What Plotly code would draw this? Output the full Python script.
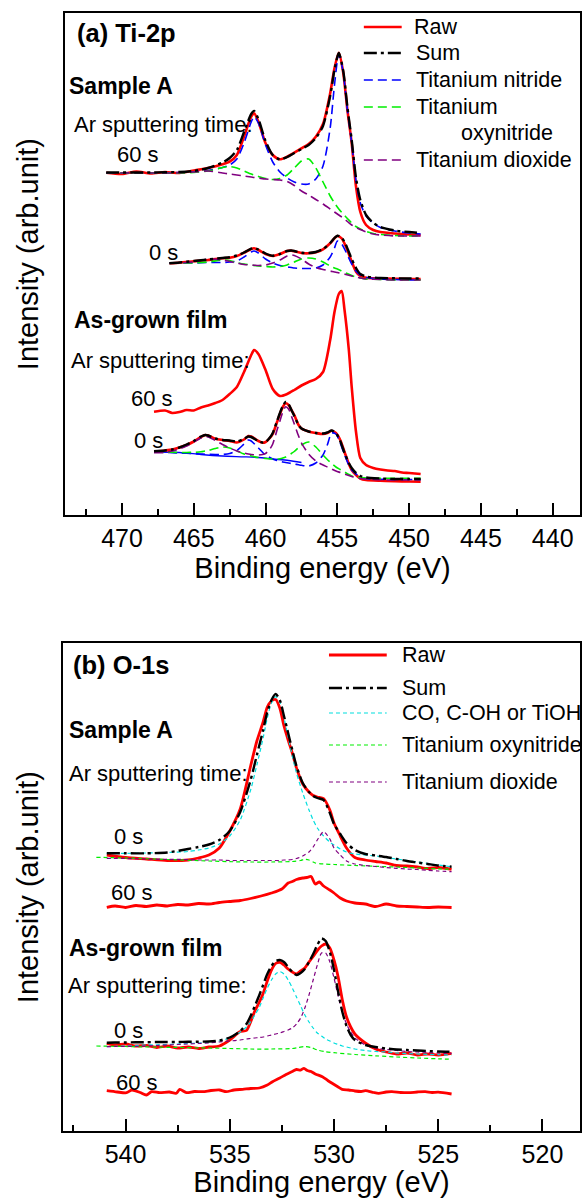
import plotly.graph_objects as go

FONT = "Liberation Sans, Arial, Helvetica, sans-serif"

# ---------------- Ti-2p ----------------
# Sample A, 60 s Ar sputtering
ti_a60_be = [471.1, 470, 469, 468, 467, 466, 465, 464, 463, 462.5, 462, 461.5, 461, 460.8, 460.5, 460,
             459.5, 459, 458.5, 458, 457.5, 457, 456.5, 456, 455.5, 455.2, 454.9, 454.6, 454.3, 454,
             453.7, 453.4, 453, 452.5, 452, 451, 450, 449.2]
ti_a60_raw = [342.3, 341, 343.5, 341.5, 343, 342, 344.5, 347, 350.7, 353.3, 360, 378.3, 398.3, 401.7, 393.3, 371.7,
              360, 355.7, 358.3, 362.3, 366.7, 371, 378.3, 391, 421.7, 446.7, 462.3, 443.3, 405, 371.7,
              328.3, 303, 290, 285, 283, 281.5, 280.5, 280]
ti_a60_sum = [342.5, 342.5, 342.5, 342.5, 342.7, 343, 344, 347, 352.5, 357, 365, 383, 401, 404, 396, 374,
              360, 355.5, 358, 362, 366, 370, 377, 389, 419, 445, 462, 445, 408, 375,
              337, 315, 300, 292, 288, 284.5, 283, 282]
ti_a60_tin = [342.3, 342, 342.2, 342, 342.2, 342.5, 343, 344.5, 347.5, 350, 356, 372, 393, 398.3, 392, 370,
              353, 343, 337, 333, 331, 331, 336, 349, 387, 430, 461, 443, 405, 372,
              334, 312, 299, 292, 287.5, 284, 282, 281]
ti_a60_tion = [342.3, 342, 342.2, 342, 342, 342, 342.5, 344, 347.5, 348.5, 347, 344, 341, 340, 338.5, 336.5,
               335.5, 336.5, 340, 347, 354, 356, 347, 333, 319, 312, 306, 301, 296.5, 292,
               288.5, 286, 283.5, 281.5, 280.5, 279.5, 279, 279]
ti_a60_tio2 = [342.3, 342, 342.2, 342, 342, 342.2, 343, 344, 342, 341, 340, 339, 338, 337.5, 337, 336,
               335.5, 335, 333.5, 329.5, 324, 320, 315.5, 311, 306, 303, 300, 297, 293.5, 290,
               287.5, 285.5, 283, 281, 280, 279, 279, 279]

# Sample A, 0 s
ti_a0_be = [466.7, 466, 465, 464, 463, 462.5, 462, 461.5, 461, 460.8, 460.5, 460, 459.5, 459, 458.5, 458.2, 458,
            457.5, 457, 456.5, 456, 455.5, 455.2, 455, 454.7, 454.4, 454, 453.7, 453.4, 453, 452, 451, 450, 449.2]
ti_a0_raw = [251.7, 252.3, 253.7, 255, 256.7, 257.3, 259, 262.3, 266, 266.7, 265, 261, 259, 261, 264, 264.3, 263.7,
             262, 261.7, 262.7, 265.7, 271.7, 276.7, 279, 276.7, 268.3, 253.3, 243.3, 239, 237.3, 236.7, 236.3, 236, 236]
ti_a0_sum = [251.7, 252.5, 254, 255.5, 257, 257.8, 259.5, 262.5, 266.3, 267, 265.5, 261.5, 259.3, 261, 264, 264.5, 264,
             262.3, 262, 263, 266, 272, 277, 279.3, 277.5, 270, 256, 247, 241, 238.5, 237, 236.7, 236.5, 236.5]
ti_a0_tin = [251.7, 252, 252, 252.5, 252.5, 253, 254, 258, 263, 264, 262, 256, 252, 249.5, 248, 247.5, 247,
             246.5, 246.5, 247, 250, 258, 267, 274, 271, 263, 251, 244, 240, 237.5, 236, 235.5, 235, 235]
ti_a0_tion = [251.7, 252, 252, 253, 255, 254.5, 252.5, 251, 250, 249.5, 249, 248.5, 248, 248.5, 250, 252, 253,
              256, 257, 256, 253, 249, 247, 246, 244, 242, 239.5, 238, 237, 236, 235.5, 235, 235, 235]
ti_a0_tio2 = [251.7, 252, 253, 256, 255, 253.5, 252, 250.5, 250, 249.8, 249.5, 250, 252, 255, 259, 260, 259.5,
              256, 251, 247.5, 245.5, 244, 243, 242.5, 241.5, 240.5, 239, 238, 237, 236, 235.5, 235, 235, 235]

# As-grown film, 60 s
ti_g60_be = [467.77, 467, 466.5, 466, 465.5, 465, 464.5, 464, 463.5, 463, 462.5, 462, 461.5, 461, 460.8, 460.5,
             460, 459.5, 459, 458.5, 458, 457.5, 457, 456.5, 456, 455.5, 455.2, 454.9, 454.7, 454.5,
             454.2, 454, 453.7, 453.4, 453, 452.5, 452, 451.5, 451, 450.5, 450, 449.2]
ti_g60_raw = [103.3, 104.5, 102, 103, 105, 104.5, 107.5, 109.5, 112, 115, 121, 128, 143, 160, 165, 161,
              145, 126, 119, 121, 125, 129.5, 133, 136, 143, 175, 203, 221, 224, 205,
              165, 128, 83, 57, 50, 47, 45.5, 44.5, 44, 42.5, 42, 41]

# As-grown film, 0 s
ti_g0_be = [467.77, 467, 466.5, 466, 465.5, 465, 464.5, 464.2, 464, 463.5,
            463, 462.5, 462, 461.5, 461.2, 461, 460.5, 460.2, 460, 459.7,
            459.5, 459.2, 459, 458.8, 458.6, 458.4, 458.2, 458, 457.7, 457.5,
            457, 456.5, 456, 455.7, 455.4, 455.1, 454.8, 454.5, 454.2, 454,
            453.7, 453.4, 453, 452, 451, 450, 449.2]
ti_g0_raw = [63.3, 64.5, 65.5, 67.5, 70, 73.5, 78, 80, 79.5, 76.3,
             75, 74, 72.5, 75.5, 79, 78.5, 74, 72.3, 73, 77,
             81, 93, 101, 108, 111.7, 110, 105, 100, 90, 86.5,
             83.5, 82, 81, 82, 84.3, 82, 75, 63, 51, 45,
             40, 36.5, 35, 34.2, 33.8, 33.5, 33.3]
ti_g0_sum = [63.8, 64.5, 65.5, 67.5, 70.5, 74, 78.5, 80, 79.5, 76.5,
             75, 74.5, 73.5, 76, 78.5, 78, 74, 72.5, 73, 77.5,
             82, 94, 102, 109, 113, 111, 105, 99, 90, 86.5,
             83.5, 82, 81.5, 82.5, 84.5, 82, 74, 62, 52, 47,
             42, 39, 37.5, 36.5, 36, 36, 36]
ti_g0_tin = [63, 62.7, 62.3, 62, 61.7, 61.3, 61, 60.8, 60.7, 60.5,
             60.5, 61.5, 64.5, 71, 75, 74, 67, 62.5, 60, 57.5,
             56, 54.5, 53.5, 53, 52.5, 52, 51.5, 51, 50.2, 49.7,
             49, 52, 60, 70, 82, 81, 72, 60, 50, 45,
             41, 38, 36.5, 35.7, 35.5, 35.5, 35.5]
ti_g0_tion = [63.3, 63, 62.7, 62.5, 62.5, 62.7, 63.2, 64, 64.5, 66.5,
              68, 67, 64, 61, 60, 59, 57.5, 57, 56.5, 56,
              56, 56, 56.3, 57, 58, 59.5, 61.5, 63.5, 67.5, 70,
              73, 68, 60, 55.5, 51.5, 48, 45.5, 43, 40.5, 39,
              38, 37.5, 37, 36.7, 36.7, 36.7, 36.7]
ti_g0_tio2 = [62.3, 62.5, 64, 66, 69, 73, 77, 78.3, 78, 74.5,
              70.5, 67, 64, 62, 61, 60.5, 60, 60.5, 61.5, 66,
              71, 85, 94, 103, 108.3, 106, 99, 91, 79, 72,
              61, 54, 50, 48, 46, 44, 42.5, 41, 39.5, 38.5,
              37.5, 36.5, 36, 35.2, 35, 35, 35]
ti_g0_bg_be = [467.77, 466, 464.5, 463, 461.5, 460.5, 459.5, 458.4, 457.5]
ti_g0_bg = [63, 62.5, 60.5, 59, 58.2, 57.5, 56, 54.5, 52.5]

# ---------------- O-1s ----------------
# Sample A, 0 s
o_a0_be = [540.9, 540, 539, 538, 537, 536.5, 536, 535.5, 535, 534.5,
           534, 533.7, 533.4, 533.2, 533, 532.8, 532.6, 532.4, 532.2, 532,
           531.8, 531.5, 531.2, 531, 530.8, 530.5, 530.2, 530, 529.7, 529.4,
           529, 528.5, 528, 527.5, 527, 526.5, 526, 525.5, 525, 524.36]
o_a0_raw = [276, 273.5, 272, 270.5, 271, 273, 276, 283, 300, 322,
            365, 390, 409, 424, 430, 431.5, 423, 405, 391, 378,
            363, 347, 339, 335.5, 334, 332.5, 321, 308, 295, 283,
            273.5, 271, 269.5, 268, 265.5, 265, 264, 262.5, 263.5, 261.7]
o_a0_sum = [277.7, 277.7, 277.7, 278.5, 282, 284, 286.5, 291, 300, 319,
            351, 376, 401, 419, 431, 437, 431, 415, 398, 381,
            365, 348, 339, 335, 333, 331, 318, 307, 297, 288,
            281, 277, 275.5, 274, 272, 270, 268.5, 267, 265.5, 264.3]
o_a0_coh = [277.7, 277.7, 278, 278.5, 279.5, 281, 283, 287, 295, 311,
            341, 366, 393, 413, 428, 434.3, 429, 413, 394, 375,
            358, 338, 321, 311, 303, 295, 289, 286, 282, 279,
            277, 276, 275, 273.5, 272, 270.5, 269, 267.5, 266, 264.3]
o_a0_tio2 = [272.7, 272.5, 272, 271.7, 271.4, 271, 271, 271, 270.5, 270.5,
             270.5, 270.5, 270.5, 270.5, 270.5, 270.5, 270.5, 271, 271, 271.5,
             272.5, 275, 279, 284, 291, 299.3, 292, 283, 276, 270,
             267, 265.5, 264.5, 263.5, 262.7, 262, 261.5, 260.7, 260, 259.3]
o_a0_tion_be = [541.4, 540, 538, 536, 535, 534, 533, 532, 531.6, 531.4,
                531.2, 530.9, 530.5, 530, 529, 528, 527, 526, 525, 524.36]
o_a0_tion = [273.7, 273, 271.5, 270, 269.3, 269, 269, 269.5, 270.5, 271.7,
             271, 268, 267, 266.5, 265.5, 264.7, 264, 263, 262.2, 261.7]

# Sample A, 60 s
o_a60_be = [540.9, 540.5, 540, 539.5, 539, 538.5, 538, 537.5, 537, 536.5,
            536, 535.5, 535, 534.5, 534, 533.5, 533, 532.5, 532.2, 532,
            531.8, 531.5, 531.3, 531.1, 530.9, 530.7, 530.5, 530.2, 530, 529.7,
            529.4, 529, 528.5, 528, 527.5, 527, 526.5, 526, 525.5, 525, 524.36]
o_a60_raw = [223.7, 225, 223.5, 225.5, 224.5, 226, 225, 226.5, 226, 227.5,
             227, 228.5, 229.5, 230.5, 232.5, 235, 238, 242, 248, 249.5,
             251.5, 253, 253.5, 254.5, 247, 249, 245, 241, 238, 233,
             230, 228, 227, 224.5, 227, 225, 224.5, 224, 223.5, 224, 223.5]

# As-grown film, 0 s
o_g0_be = [540.9, 540.5, 540, 539.5, 539, 538.5, 538, 537.5, 537, 536.5,
           536, 535.5, 535, 534.5, 534.2, 534, 533.8, 533.6, 533.4, 533.2,
           533, 532.8, 532.6, 532.4, 532.2, 532, 531.8, 531.6, 531.4, 531.2,
           531, 530.8, 530.6, 530.4, 530.2, 530, 529.8, 529.6, 529.4, 529.2,
           529, 528.5, 528, 527.5, 527, 526.5, 526, 525.5, 525, 524.36]
o_g0_raw = [87.7, 86, 87, 85, 85.5, 83.5, 85, 83, 84, 82.5,
            84, 85, 91, 99.5, 100.5, 109, 120, 128, 137.5, 150,
            161, 167.5, 168.7, 166, 162, 159, 157, 160, 163, 169,
            174.5, 180.5, 185, 187, 183, 171, 154, 131, 114, 104,
            97, 88, 82, 79, 77, 78, 76, 77, 76, 77.7]
o_g0_sum = [88.3, 88.5, 88.5, 88.7, 88.8, 89, 89, 89, 89.2, 89.3,
            89.5, 90.5, 93.5, 100, 107, 115, 125, 135, 146, 157,
            165, 170, 171, 169, 164, 159, 156, 158, 162, 169,
            177, 186, 192.5, 190, 179, 161, 139, 119, 105, 96,
            91, 86, 84, 82.5, 81.5, 81, 80.5, 80, 79.5, 79.3]
o_g0_coh = [84.3, 84.7, 85, 85.5, 86, 86.2, 86.5, 87, 87.5, 88,
            88.5, 90, 93, 99, 104, 109, 116, 123, 133, 143,
            151, 157, 159.3, 157, 151, 143, 134, 125, 116, 109,
            103, 98, 95, 92, 90, 88, 86.5, 85, 84, 83,
            82, 80.5, 79.5, 79, 78, 77.5, 77, 76.7, 76.3, 76]
o_g0_tio2 = [84.3, 84.5, 84.5, 84.7, 85, 85.5, 86, 86.5, 87, 87.5,
             88, 89, 90, 91, 92, 92.5, 93, 93.5, 94, 95,
             96, 97, 98, 99.5, 101, 103, 107, 113, 123, 136,
             151, 166, 178, 178, 169, 153, 135, 119, 107, 99,
             93, 86, 83, 81.5, 80.5, 79.5, 79, 78.5, 78, 77.7]
o_g0_tion_be = [541.4, 540, 538, 536, 535, 534, 533, 532, 531.7, 531.4,
                531.1, 530.8, 530.4, 530, 529, 528, 527, 526, 525, 524.36]
o_g0_tion = [85, 84.5, 83.7, 83, 82.5, 82, 82, 82.5, 83.5, 84.5,
             83.5, 81, 79.3, 78.3, 76.5, 75.2, 74, 73, 72.2, 71.7]

# As-grown film, 60 s
o_g60_be = [540.9, 540.4, 539.95, 539.7, 539.3, 539.0, 538.75, 538.36, 537.9, 537.56,
            537.4, 537.08, 536.7, 536.29, 535.9, 535.49, 535.17, 534.8, 534.38, 534.0,
            533.58, 533.2, 532.95, 532.6, 532.3, 532.0, 531.8, 531.6, 531.44, 531.28,
            531.1, 530.9, 530.56, 530.3, 530.09, 529.8, 529.61, 529.3, 529.0, 528.7,
            528.49, 528.1, 527.86, 527.5, 527.22, 526.8, 526.42, 526.0, 525.63, 525.3,
            525.0, 524.36]
o_g60_raw = [40.3, 39, 38.3, 41, 38.5, 36, 39.3, 38.3, 39, 37.7,
             41.7, 38.3, 39.5, 39.3, 40.5, 41, 39.3, 41, 41.7, 42.5,
             43, 46, 49.3, 53, 56.5, 59.5, 61.5, 61, 62.7, 60.5,
             59.5, 57, 54.3, 50.5, 47.7, 44, 41.7, 41, 40, 39.5,
             40.3, 38.5, 37.7, 39, 39.3, 38.5, 38.3, 39, 39.3, 38.5,
             38.8, 37]

# ---------------- styling ----------------
RED, BLACK, BLUE = "#ff0000", "#000000", "#0000ff"
GREEN, PURPLE, CYAN = "#00ee00", "#800080", "#00dede"
DASH_TI = "9px,5px"
DASH_O = "4px,3px"
DASH_SUM = "13px,4px,3px,4px"

W, H = 584, 1198
ML, MR, MT, MB = 63, 2, 13, 67
PW, PH = W - ML - MR, H - MT - MB


def px(x):
    return (x - ML) / PW


def py(y):
    return (H - MB - y) / PH


fig = go.Figure()


def add(be, inten, xa, ya, color, width, dash="solid"):
    fig.add_trace(go.Scatter(
        x=be, y=inten, xaxis=xa, yaxis=ya, mode="lines",
        line=dict(color=color, width=width, dash=dash, shape="spline", smoothing=0.7),
        showlegend=False, hoverinfo="skip"))


# Ti-2p panel
for comps, raw, tot, be in [
    ((ti_a60_tin, ti_a60_tion, ti_a60_tio2), ti_a60_raw, ti_a60_sum, ti_a60_be),
    ((ti_a0_tin, ti_a0_tion, ti_a0_tio2), ti_a0_raw, ti_a0_sum, ti_a0_be),
]:
    add(be, raw, "x", "y", RED, 2.6)
    for c, col in zip(comps, (BLUE, GREEN, PURPLE)):
        add(be, c, "x", "y", col, 1.6, DASH_TI)
    add(be, tot, "x", "y", BLACK, 2.4, DASH_SUM)

add(ti_g60_be, ti_g60_raw, "x", "y", RED, 2.6)
add(ti_g0_bg_be, ti_g0_bg, "x", "y", BLUE, 1.3)
add(ti_g0_be, ti_g0_raw, "x", "y", RED, 2.6)
for c, col in zip((ti_g0_tin, ti_g0_tion, ti_g0_tio2), (BLUE, GREEN, PURPLE)):
    add(ti_g0_be, c, "x", "y", col, 1.6, DASH_TI)
add(ti_g0_be, ti_g0_sum, "x", "y", BLACK, 2.4, DASH_SUM)

# O-1s panel
add(o_a0_be, o_a0_raw, "x2", "y2", RED, 2.8)
add(o_a0_be, o_a0_coh, "x2", "y2", CYAN, 1.2, DASH_O)
add(o_a0_tion_be, o_a0_tion, "x2", "y2", GREEN, 1.2, DASH_O)
add(o_a0_be, o_a0_tio2, "x2", "y2", PURPLE, 1.2, DASH_O)
add(o_a0_be, o_a0_sum, "x2", "y2", BLACK, 2.4, DASH_SUM)
add(o_a60_be, o_a60_raw, "x2", "y2", RED, 2.8)

add(o_g0_be, o_g0_raw, "x2", "y2", RED, 2.8)
add(o_g0_be, o_g0_coh, "x2", "y2", CYAN, 1.2, DASH_O)
add(o_g0_tion_be, o_g0_tion, "x2", "y2", GREEN, 1.2, DASH_O)
add(o_g0_be, o_g0_tio2, "x2", "y2", PURPLE, 1.2, DASH_O)
add(o_g0_be, o_g0_sum, "x2", "y2", BLACK, 2.4, DASH_SUM)
add(o_g60_be, o_g60_raw, "x2", "y2", RED, 2.8)

# axes
xcommon = dict(showline=True, linewidth=2, linecolor="black", mirror=True,
               ticks="inside", ticklen=12, tickwidth=2, tickcolor="black",
               tick0=0, dtick=5, showgrid=False, zeroline=False,
               minor=dict(ticks="inside", ticklen=6, tickwidth=1.5, tickcolor="black", dtick=2.5, showgrid=False),
               tickfont=dict(family=FONT, size=25, color="black"),
               title=dict(text="Binding energy (eV)", font=dict(family=FONT, size=29, color="black"), standoff=4))
ycommon = dict(showline=True, linewidth=2, linecolor="black", mirror=True, ticks="",
               showticklabels=False, showgrid=False, zeroline=False)

fig.update_layout(
    width=W, height=H, margin=dict(l=ML, r=MR, t=MT, b=MB),
    paper_bgcolor="white", plot_bgcolor="white", showlegend=False,
    xaxis=dict(domain=[px(65), 1], range=[473.97, 438.1], anchor="y", **xcommon),
    yaxis=dict(domain=[py(515), 1], range=[0, 502], anchor="x", **ycommon),
    xaxis2=dict(domain=[0, 1], range=[543.0, 518.2], anchor="y2", **xcommon),
    yaxis2=dict(domain=[0, py(643)], range=[0, 488], anchor="x2", **ycommon),
)

annotations = []


def text(s, x, y, size=22, bold=False, anchor="left", angle=0):
    annotations.append(dict(
        text=f"<b>{s}</b>" if bold else s, x=px(x), y=py(y), xref="paper", yref="paper",
        xanchor=anchor, yanchor="middle", showarrow=False, textangle=angle,
        font=dict(family=FONT, size=size, color="black")))


# Ti-2p labels
text("(a) Ti-2p", 75, 33, 25.5, True)
text("Sample A", 67, 86, 23, True)
text("Ar sputtering time:", 72, 125)
text("60 s", 115, 154)
text("0 s", 147, 252)
text("As-grown film", 72, 320, 23, True)
text("Ar sputtering time:", 69, 360)
text("60 s", 129, 398)
text("0 s", 132, 440)
# O-1s labels
text("(b) O-1s", 71, 665, 25.5, True)
text("Sample A", 67, 730, 23, True)
text("Ar sputtering time:", 67, 773)
text("0 s", 112, 837)
text("60 s", 109, 892)
text("As-grown film", 67, 948, 23, True)
text("Ar sputtering time:", 66, 985)
text("0 s", 112, 1030)
text("60 s", 114, 1082)
# y titles
text("Intensity (arb.unit)", 28, 254, 29, anchor="center", angle=-90)
text("Intensity (arb.unit)", 28, 887, 29, anchor="center", angle=-90)

shapes = []


def key(x0, x1, y, color, width, dash):
    shapes.append(dict(type="line", xref="paper", yref="paper", x0=px(x0), x1=px(x1),
                       y0=py(y), y1=py(y), line=dict(color=color, width=width, dash=dash)))


# Ti-2p legend
key(365, 403, 27, RED, 2.6, "solid")
key(365, 403, 53, BLACK, 2.4, DASH_SUM)
key(365, 403, 80, BLUE, 1.6, DASH_TI)
key(365, 403, 107, GREEN, 1.6, DASH_TI)
key(365, 403, 160, PURPLE, 1.6, DASH_TI)
text("Raw", 413, 27, 21.5)
text("Sum", 415, 53, 21.5)
text("Titanium nitride", 415, 80, 21.5)
text("Titanium", 415, 107, 21.5)
text("oxynitride", 461, 133, 21.5)
text("Titanium dioxide", 415, 160, 21.5)

# O-1s legend
key(330, 388, 655, RED, 2.8, "solid")
key(330, 388, 688, BLACK, 2.4, DASH_SUM)
key(330, 388, 713, CYAN, 1.2, DASH_O)
key(330, 388, 745, GREEN, 1.2, DASH_O)
key(330, 388, 782, PURPLE, 1.2, DASH_O)
text("Raw", 401, 655, 21.5)
text("Sum", 401, 688, 21.5)
text("CO, C-OH or TiOH", 401, 713, 21.5)
text("Titanium oxynitride", 401, 745, 21.5)
text("Titanium dioxide", 401, 782, 21.5)

fig.update_layout(annotations=annotations, shapes=shapes)

fig.write_html("out.html")
